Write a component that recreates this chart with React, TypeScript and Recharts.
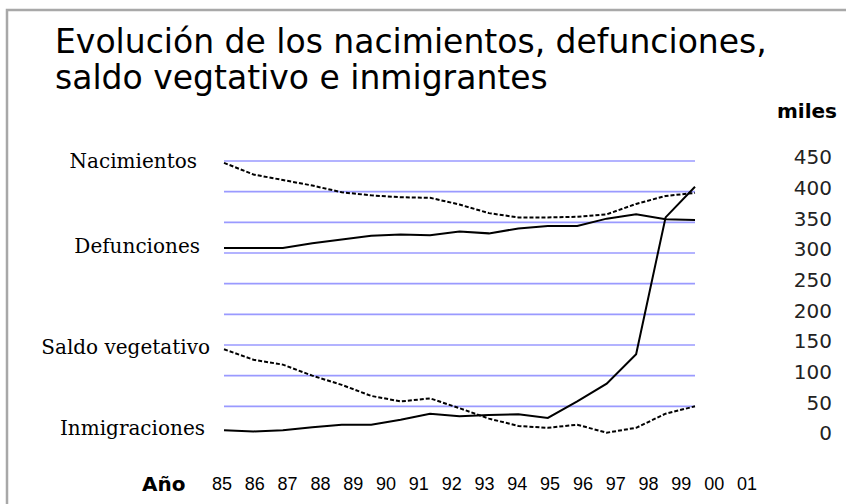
import React from "react";
import { LineChart, Line, XAxis, YAxis, ReferenceLine } from "recharts";

const years = ["85", "86", "87", "88", "89", "90", "91", "92", "93", "94", "95", "96", "97", "98", "99", "00", "01"];

// miles de personas
const nacimientos = [447, 428, 419, 410, 399, 394, 391, 390, 379, 365, 358, 358, 359, 363, 380, 393, 398];
const defunciones = [308, 308, 308, 316, 322, 328, 330, 329, 335, 332, 340, 344, 344, 356, 363, 355, 354];
const saldoVegetativo = [143, 126, 118, 100, 85, 67, 58, 63, 47, 30, 18, 15, 20, 7, 15, 38, 50];
const inmigraciones = [11, 9, 11, 16, 20, 20, 28, 38, 34, 36, 37, 31, 58, 87, 135, 358, 408];

const yTicks = [0, 50, 100, 150, 200, 250, 300, 350, 400, 450];
const gridValues = [50, 100, 150, 200, 250, 300, 350, 400, 450];

const data = years.map((year, i) => ({
  year,
  nac: nacimientos[i],
  def: defunciones[i],
  saldo: saldoVegetativo[i],
  inm: inmigraciones[i],
}));

const serif = "'DejaVu Serif', 'Liberation Serif', serif";
const sans = "'DejaVu Sans', Verdana, sans-serif";

// series name written at the left of the first point
function startLabel(text: string, gap: number) {
  return (props: any) => {
    if (props.index !== 0) return null;
    return (
      <text x={props.x - gap} y={props.y + 5} textAnchor="end" fontFamily={serif} fontSize={20} fill="#000">
        {text}
      </text>
    );
  };
}

const YTick = (props: any) => (
  <text x={props.x + 77} y={props.y - 4} dy="0.36em" textAnchor="end" fontFamily={sans} fontSize={20} fill="#222">
    {props.payload.value}
  </text>
);

const YearTick = (props: any) => (
  <text
    x={props.x}
    y={props.y + 45}
    textAnchor="middle"
    fontFamily="'Liberation Sans', Arial, sans-serif"
    fontSize={18}
    fill="#000"
  >
    {props.payload.value}
  </text>
);

export default function App() {
  return (
    <div style={{ position: "absolute", left: 0, top: 0, width: 846, height: 504, background: "#fff" }}>
      <LineChart width={846} height={504} data={data} margin={{ top: 161, right: 39, bottom: 37, left: 222 }}>
        <XAxis xAxisId="main" dataKey="year" hide padding={{ left: 2, right: 52 }} />
        <XAxis
          xAxisId="labels"
          dataKey="year"
          axisLine={false}
          tickLine={false}
          interval={0}
          height={30}
          tick={<YearTick />}
        />
        <YAxis
          orientation="right"
          domain={[0, 450]}
          ticks={yTicks}
          interval={0}
          axisLine={false}
          tickLine={false}
          width={60}
          tick={<YTick />}
        />
        {gridValues.map((v) => (
          <ReferenceLine
            key={v}
            xAxisId="main"
            segment={[
              { x: years[0], y: v },
              { x: years[years.length - 1], y: v },
            ]}
            stroke="#9a9aff"
            strokeWidth={1.6}
          />
        ))}
        <Line xAxisId="main" dataKey="nac" stroke="#000" strokeWidth={2} strokeDasharray="4 2" dot={false}
          isAnimationActive={false} label={startLabel("Nacimientos", 27)} />
        <Line xAxisId="main" dataKey="def" stroke="#000" strokeWidth={2} dot={false}
          isAnimationActive={false} label={startLabel("Defunciones", 24)} />
        <Line xAxisId="main" dataKey="saldo" stroke="#000" strokeWidth={2} strokeDasharray="4 2" dot={false}
          isAnimationActive={false} label={startLabel("Saldo vegetativo", 14)} />
        <Line xAxisId="main" dataKey="inm" stroke="#000" strokeWidth={2} dot={false}
          isAnimationActive={false} label={startLabel("Inmigraciones", 19)} />
      </LineChart>
      <svg width={846} height={504} style={{ position: "absolute", left: 0, top: 0, pointerEvents: "none" }}>
        <path d="M7,504 L7,10 L846,10" fill="none" stroke="#a8a8a8" strokeWidth={2.5} />
        <text x={55} y={53} fontFamily={sans} fontSize={33} fill="#000">
          Evolución de los nacimientos, defunciones,
        </text>
        <text x={55} y={89} fontFamily={sans} fontSize={33} fill="#000">
          saldo vegtativo e inmigrantes
        </text>
        <text x={837} y={118} textAnchor="end" fontFamily={sans} fontSize={20} fontWeight="bold" fill="#000">
          miles
        </text>
        <text x={142} y={491} fontFamily={sans} fontSize={20} fontWeight="bold" fill="#000">
          Año
        </text>
      </svg>
    </div>
  );
}
